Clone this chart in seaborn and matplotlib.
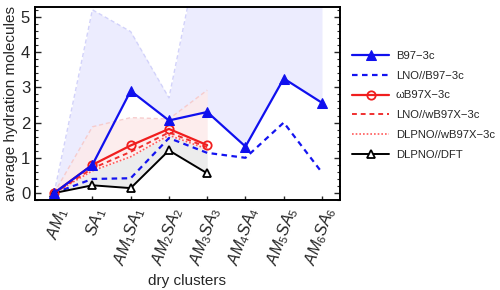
import numpy as np
import pandas as pd
import matplotlib
matplotlib.use("Agg")
import matplotlib.pyplot as plt
import seaborn as sns
from matplotlib.ticker import MultipleLocator

categories = [r"$AM_1$", r"$SA_1$", r"$AM_1SA_1$", r"$AM_2SA_2$", r"$AM_3SA_3$",
              r"$AM_4SA_4$", r"$AM_5SA_5$", r"$AM_6SA_6$"]

b97 = [0.0, 0.80, 2.90, 2.06, 2.30, 1.32, 3.25, 2.56]
lno_b97 = [0.0, 0.40, 0.42, 1.56, 1.14, 1.00, 2.00, 0.58]
wb97 = [0.0, 0.80, 1.35, 1.82, 1.36]
lno_wb97 = [0.0, 0.70, 1.17, 1.72, 1.30]
dlpno_wb97 = [0.0, 0.63, 1.03, 1.64, 1.25]
dlpno_dft = [0.0, 0.22, 0.14, 1.21, 0.56]

b97_upper = [0.0, 5.20, 4.58, 2.70, 8.0, 8.0, 8.0, 8.0]
wb97_upper = [0.0, 1.88, 2.14, 2.10, 2.92]

sns.set_theme(style="ticks")
plt.rcParams["font.family"] = ["Liberation Sans", "DejaVu Sans"]
plt.rcParams["mathtext.fontset"] = "custom"
plt.rcParams["mathtext.it"] = "Liberation Sans:italic"
plt.rcParams["mathtext.rm"] = "Liberation Sans"

fig = plt.figure(figsize=(5, 2.9), dpi=100)
ax = fig.add_axes([0.07, 0.31, 0.61, 0.666])

x_all = np.arange(len(categories))
x5 = np.arange(len(wb97))

# shaded bands
ax.fill_between(x_all, b97, b97_upper, color="#ececfe", lw=0, zorder=1)
ax.fill_between(x5, dlpno_wb97, wb97_upper, color="#fdeaea", alpha=0.85, lw=0, zorder=1.2)
ax.fill_between(x5, dlpno_dft, dlpno_wb97, color="#ececec", lw=0, zorder=1.1)
ax.plot(x_all, b97_upper, color="#d2d2fa", ls=(0, (3, 2)), lw=1.0, zorder=1.5)
ax.plot(x5, wb97_upper, color="#f7cccc", ls=(0, (3, 2)), lw=1.0, zorder=1.5)

def df(vals):
    return pd.DataFrame({"x": np.arange(len(vals)), "y": vals})

sns.lineplot(data=df(lno_b97), x="x", y="y", ax=ax, color="#1414f0", lw=1.6,
             linestyle=(0, (2.5, 2)), label="LNO//B97\u22123c", zorder=3)
sns.lineplot(data=df(dlpno_wb97), x="x", y="y", ax=ax, color="#ff5a5a", lw=1.2,
             linestyle=(0, (1, 1.2)), label="DLPNO//wB97X\u22123c", zorder=3)
sns.lineplot(data=df(lno_wb97), x="x", y="y", ax=ax, color="#f03030", lw=1.4,
             linestyle=(0, (2.5, 2)), label="LNO//wB97X\u22123c", zorder=3)
sns.lineplot(data=df(dlpno_dft), x="x", y="y", ax=ax, color="black", lw=1.4,
             marker="^", markersize=6, markerfacecolor="white", markeredgecolor="black",
             markeredgewidth=1.3, label="DLPNO//DFT", zorder=4)
sns.lineplot(data=df(wb97), x="x", y="y", ax=ax, color="#f01e1e", lw=1.6,
             marker="o", markersize=6, markerfacecolor="none", markeredgecolor="#f01e1e",
             markeredgewidth=1.3, label="\u03c9B97X\u22123c", zorder=5)
sns.lineplot(data=df(b97), x="x", y="y", ax=ax, color="#1010ee", lw=1.6,
             marker="^", markersize=7, markerfacecolor="#1010ee", markeredgecolor="#1010ee",
             label="B97\u22123c", zorder=6)

ax.set_xlim(-0.5, 7.47)
ax.set_ylim(-0.2, 5.28)
ax.set_xticks(x_all)
ax.set_xticklabels(categories, rotation=70, ha="right", rotation_mode="anchor", fontsize=11.5)
ax.yaxis.set_major_locator(MultipleLocator(1))
ax.yaxis.set_minor_locator(MultipleLocator(0.2))
ax.tick_params(axis="y", which="both", direction="in", right=True, labelsize=12)
ax.tick_params(axis="y", which="major", length=4, width=1)
ax.tick_params(axis="y", which="minor", length=2, width=0.8)
ax.tick_params(axis="x", direction="in", length=3, width=1, top=False)
for s in ax.spines.values():
    s.set_linewidth(1.4)
    s.set_color("black")
ax.set_xlabel("dry clusters", fontsize=11)
ax.set_ylabel("average hydration molecules", fontsize=11, labelpad=2)

handles, labels = ax.get_legend_handles_labels()
order = ["B97\u22123c", "LNO//B97\u22123c", "\u03c9B97X\u22123c", "LNO//wB97X\u22123c",
         "DLPNO//wB97X\u22123c", "DLPNO//DFT"]
hmap = dict(zip(labels, handles))
ax.legend([hmap[l] for l in order], order, loc="upper left",
          bbox_to_anchor=(0.695, 0.84), bbox_transform=fig.transFigure,
          frameon=False, fontsize=8.1, handlelength=3.3, labelspacing=0.87,
          handletextpad=0.6, borderaxespad=0)

fig.savefig("out.png", dpi=100)
